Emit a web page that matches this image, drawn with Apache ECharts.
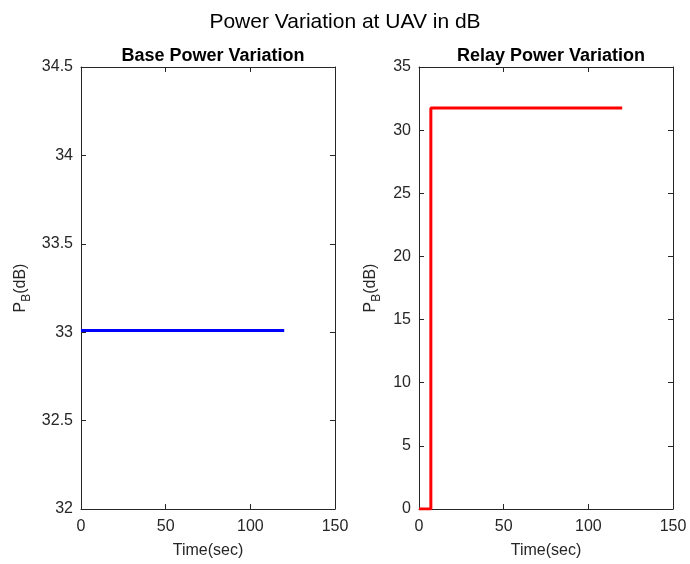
<!DOCTYPE html>
<html>
<head>
<meta charset="utf-8">
<script src="https://cdn.jsdelivr.net/npm/echarts@6/dist/echarts.min.js"></script>
<style>
  html, body { margin: 0; padding: 0; background: #fff; }
  #chart { width: 690px; height: 564px; }
</style>
</head>
<body>
<div id="chart"></div>
<script>
// Time samples (seconds) and power levels (dB)
const baseTime = [0, 120];
const basePower = [33.01, 33.01];
const relayTime = [0, 7, 7, 120];
const relayPower = [0, 0, 31.76, 31.76];

const xTicks = { min: 0, max: 150, interval: 50 };
const baseTicks = { min: 32, max: 34.5, interval: 0.5 };
const relayTicks = { min: 0, max: 35, interval: 5 };

const axisColor = '#262626';
const fontFamily = 'Liberation Sans, Arial, sans-serif';
const labelSize = 16;

const chart = echarts.init(document.getElementById('chart'), null, { renderer: 'canvas' });

function pairs(xs, ys) { return xs.map((x, i) => [x, ys[i]]); }

// P with subscript B, followed by the unit
const yNameText = '{a|P}{b|B}{a|(dB)}';
const yNameRich = {
  a: { fontSize: labelSize, color: axisColor, fontFamily, lineHeight: 16, verticalAlign: 'top' },
  b: { fontSize: 12, color: axisColor, fontFamily, lineHeight: 14, padding: [8, 0, 0, 0], verticalAlign: 'top' }
};

function axisBase(grid, ticks) {
  return {
    type: 'value', gridIndex: grid, min: ticks.min, max: ticks.max, interval: ticks.interval,
    axisLine: { show: true, onZero: false, lineStyle: { color: axisColor, width: 1 } },
    axisTick: { show: true, inside: true, length: 5, lineStyle: { color: axisColor } },
    splitLine: { show: false }
  };
}

function xAxes(grid) {
  return [
    Object.assign(axisBase(grid, xTicks), {
      position: 'bottom',
      name: 'Time(sec)', nameLocation: 'middle', nameGap: 34,
      nameTextStyle: { fontSize: labelSize, color: axisColor, fontFamily },
      axisLabel: { fontSize: labelSize, color: axisColor, fontFamily, margin: 10 }
    }),
    Object.assign(axisBase(grid, xTicks), { position: 'top', axisLabel: { show: false } })
  ];
}

function yAxes(grid, ticks, gap) {
  return [
    Object.assign(axisBase(grid, ticks), {
      position: 'left',
      name: yNameText, nameLocation: 'middle', nameGap: gap,
      nameTextStyle: { rich: yNameRich },
      axisLabel: { fontSize: labelSize, color: axisColor, fontFamily, margin: 8 }
    }),
    Object.assign(axisBase(grid, ticks), { position: 'right', axisLabel: { show: false } })
  ];
}

const option = {
  backgroundColor: '#fff',
  animation: false,
  title: [
    { text: 'Power Variation at UAV in dB', left: 'center', top: 7,
      textStyle: { fontSize: 21, fontWeight: 'normal', color: '#000', fontFamily } },
    { text: 'Base Power Variation', left: 208, top: 42, textAlign: 'center',
      textStyle: { fontSize: 18, fontWeight: 'bold', color: '#000', fontFamily } },
    { text: 'Relay Power Variation', left: 546, top: 42, textAlign: 'center',
      textStyle: { fontSize: 18, fontWeight: 'bold', color: '#000', fontFamily } }
  ],
  grid: [
    { left: 81, top: 67, width: 254, height: 443 },
    { left: 419, top: 67, width: 254, height: 443 }
  ],
  xAxis: [...xAxes(0), ...xAxes(1)],
  yAxis: [...yAxes(0, baseTicks, 52), ...yAxes(1, relayTicks, 40)],
  series: [
    { type: 'line', xAxisIndex: 0, yAxisIndex: 0, data: pairs(baseTime, basePower),
      showSymbol: false, lineStyle: { color: '#0000ff', width: 3 } },
    { type: 'line', xAxisIndex: 2, yAxisIndex: 2, data: pairs(relayTime, relayPower),
      showSymbol: false, lineStyle: { color: '#ff0000', width: 3 } }
  ]
};

chart.setOption(option);
</script>
</body>
</html>
